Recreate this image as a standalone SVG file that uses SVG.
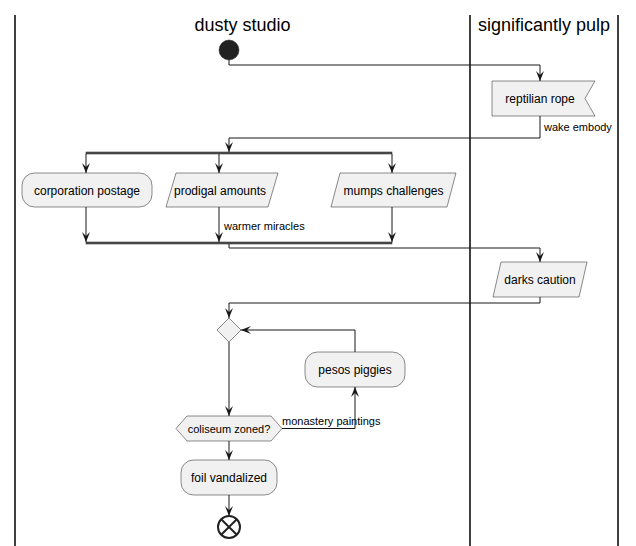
<svg xmlns="http://www.w3.org/2000/svg" width="636" height="546" viewBox="0 0 636 546">
<defs>
<style>
.lane{stroke:#000;stroke-width:1.5;fill:none}
.title{font-family:"Liberation Sans",Arial,sans-serif;font-size:18px;fill:#000}
.node{fill:#F1F1F1;stroke:#181818;stroke-width:0.5}
.t{font-family:"Liberation Sans",Arial,sans-serif;font-size:12px;fill:#000;text-anchor:middle}
.lbl{font-family:"Liberation Sans",Arial,sans-serif;font-size:11px;fill:#000}
.c{fill:none;stroke:#181818;stroke-width:1}
.bar{fill:#555555;stroke:#181818;stroke-width:0.5}
</style>
<marker id="a" markerUnits="userSpaceOnUse" viewBox="0 0 10 8" refX="10" refY="4" markerWidth="10" markerHeight="8" orient="auto">
<path d="M0,0 L10,4 L0,8 L4,4 Z" fill="#181818"/>
</marker>
</defs>
<rect width="636" height="546" fill="#FFFFFF"/>
<g id="lanes">
<line class="lane" x1="15" y1="15" x2="15" y2="546"/>
<line class="lane" x1="470" y1="15" x2="470" y2="546"/>
<line class="lane" x1="618" y1="15" x2="618" y2="546"/>
<text class="title" x="242.5" y="31" text-anchor="middle">dusty studio</text>
<text class="title" x="544" y="31" text-anchor="middle">significantly pulp</text>
</g>
<g id="connectors">
<path class="c" d="M229,60 V65 H540 V81" marker-end="url(#a)"/>
<path class="c" d="M540,116 V138 H229 V152" marker-end="url(#a)"/>
<text class="lbl" x="544" y="131">wake embody</text>
<path class="c" d="M86,154 V173" marker-end="url(#a)"/>
<path class="c" d="M219,154 V173" marker-end="url(#a)"/>
<path class="c" d="M392,154 V173" marker-end="url(#a)"/>
<path class="c" d="M86,207 V242" marker-end="url(#a)"/>
<path class="c" d="M219,207 V242" marker-end="url(#a)"/>
<text class="lbl" x="224" y="230">warmer miracles</text>
<path class="c" d="M392,207 V242" marker-end="url(#a)"/>
<path class="c" d="M229,244 V248 H540 V262" marker-end="url(#a)"/>
<path class="c" d="M540,297 V303 H229 V318" marker-end="url(#a)"/>
<path class="c" d="M229,342 V416" marker-end="url(#a)"/>
<path class="c" d="M282,428.5 H355 V387" marker-end="url(#a)"/>
<text class="lbl" x="282" y="425">monastery paintings</text>
<path class="c" d="M355,352 V330 H241" marker-end="url(#a)"/>
<path class="c" d="M229,441 V460" marker-end="url(#a)"/>
<path class="c" d="M229,495 V516" marker-end="url(#a)"/>
</g>
<g id="start"><circle cx="229" cy="50" r="10" fill="#222222" stroke="#222222" stroke-width="0.5"/></g>
<g id="reptilian-rope">
<polygon class="node" points="492,81 595,81 585,98.5 595,116 492,116"/>
<text class="t" x="540" y="102.5">reptilian rope</text>
</g>
<g id="fork"><rect class="bar" x="86" y="152" width="306" height="2"/></g>
<g id="corporation-postage">
<rect class="node" x="22" y="173" width="130" height="34" rx="12.5" ry="12.5"/>
<text class="t" x="87" y="194.5">corporation postage</text>
</g>
<g id="prodigal-amounts">
<polygon class="node" points="176,173 278,173 268,207 166,207"/>
<text class="t" x="220" y="194.5">prodigal amounts</text>
</g>
<g id="mumps-challenges">
<polygon class="node" points="340,173 456,173 447,207 331,207"/>
<text class="t" x="393.5" y="194.5">mumps challenges</text>
</g>
<g id="join"><rect class="bar" x="86" y="242" width="306" height="2"/></g>
<g id="darks-caution">
<polygon class="node" points="501,262 587,262 579,297 493,297"/>
<text class="t" x="540" y="284">darks caution</text>
</g>
<g id="merge">
<polygon class="node" points="229,318 241,330 229,342 217,330"/>
</g>
<g id="pesos-piggies">
<rect class="node" x="305" y="352" width="100" height="35" rx="12.5" ry="12.5"/>
<text class="t" x="355" y="374">pesos piggies</text>
</g>
<g id="coliseum-zoned">
<polygon class="node" points="187,416 271,416 282,428.5 271,441 187,441 176,428.5"/>
<text class="lbl" x="229" y="432.5" text-anchor="middle">coliseum zoned?</text>
</g>
<g id="foil-vandalized">
<rect class="node" x="181" y="460" width="96" height="35" rx="12.5" ry="12.5"/>
<text class="t" x="229" y="482">foil vandalized</text>
</g>
<g id="end">
<circle cx="229" cy="527" r="11" fill="none" stroke="#222222" stroke-width="2"/>
<line x1="221.2" y1="519.2" x2="236.8" y2="534.8" stroke="#222222" stroke-width="2"/>
<line x1="236.8" y1="519.2" x2="221.2" y2="534.8" stroke="#222222" stroke-width="2"/>
</g>
</svg>
